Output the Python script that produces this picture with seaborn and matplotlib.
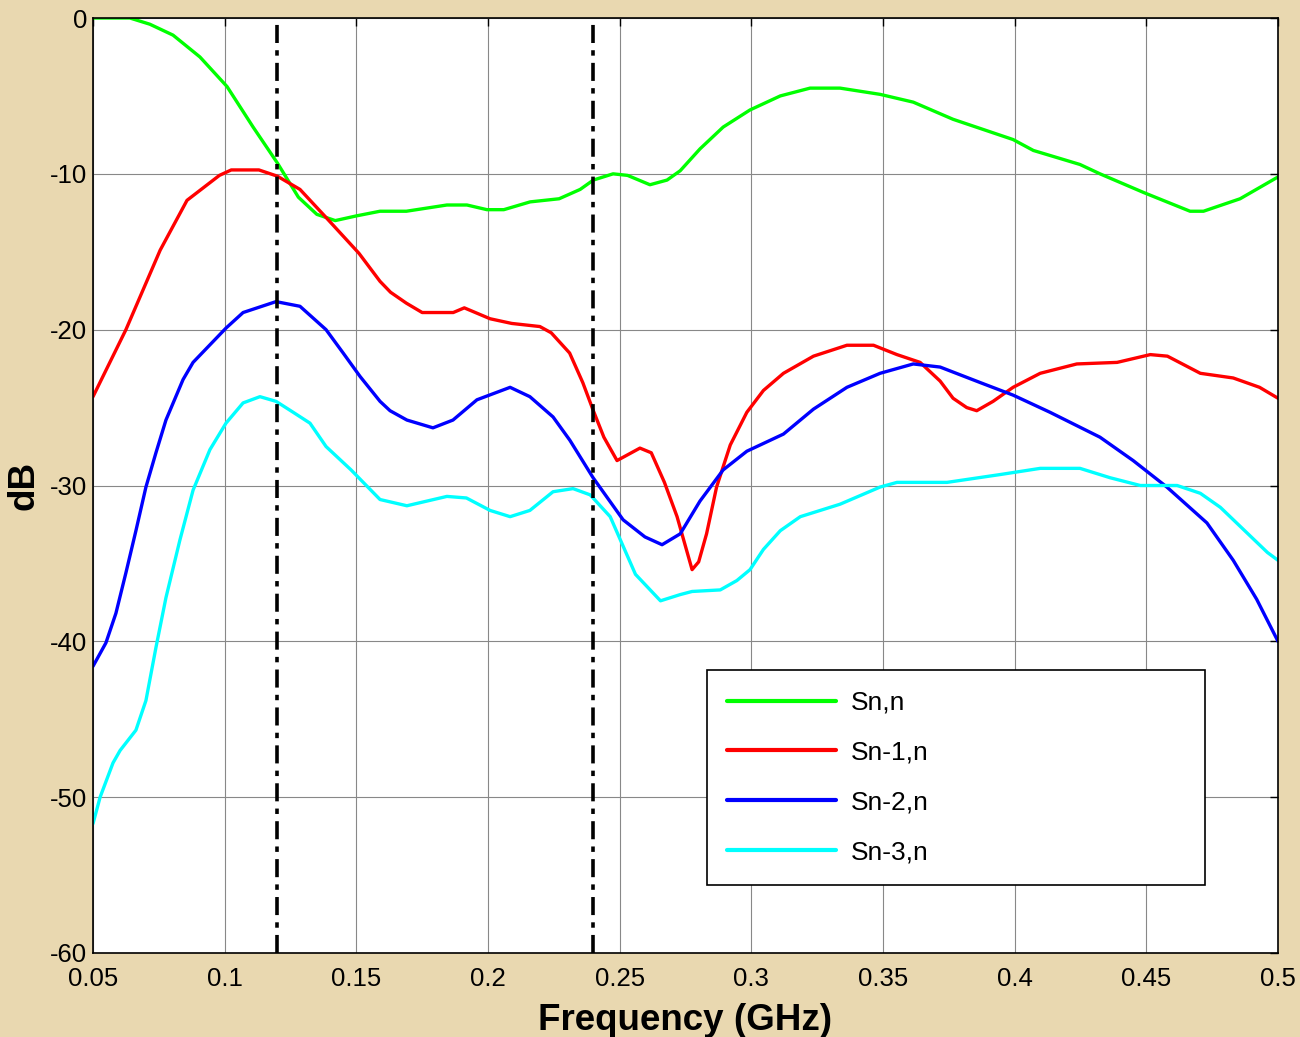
import numpy as np
import pandas as pd
import seaborn as sns
from matplotlib import pyplot as plt

sns.set_theme(style="white")
plt.rcParams['font.family'] = ['Liberation Sans', 'DejaVu Sans']
plt.rcParams['axes.unicode_minus'] = False

# Sn,n
green_f = [0.05, 0.064, 0.0716, 0.0804, 0.0906, 0.1009, 0.1108, 0.12, 0.128, 0.135, 0.142,
           0.150, 0.159, 0.169, 0.1844, 0.192, 0.1996, 0.206, 0.216, 0.227, 0.235, 0.24,
           0.2475, 0.253, 0.2615, 0.268, 0.273, 0.2805, 0.2893, 0.2995, 0.311, 0.3223,
           0.3337, 0.3489, 0.3615, 0.3766, 0.3994, 0.4071, 0.4248, 0.4324, 0.449, 0.4666,
           0.4717, 0.4856, 0.5]
green_db = [0, 0, -0.4, -1.1, -2.5, -4.4, -7.0, -9.3, -11.5, -12.6, -13.0,
            -12.7, -12.4, -12.4, -12.0, -12.0, -12.3, -12.3, -11.8, -11.6, -11.0, -10.4,
            -10.0, -10.1, -10.7, -10.4, -9.8, -8.4, -7.0, -5.9, -5.0, -4.5,
            -4.5, -4.9, -5.4, -6.5, -7.8, -8.5, -9.4, -10.0, -11.2, -12.4,
            -12.4, -11.6, -10.2]

# Sn-1,n
red_f = [0.05, 0.0625, 0.0755, 0.0857, 0.098, 0.1025, 0.113, 0.12, 0.1286, 0.1385, 0.151,
         0.159, 0.163, 0.169, 0.175, 0.1868, 0.191, 0.2008, 0.209, 0.2197, 0.224, 0.231,
         0.236, 0.24, 0.244, 0.249, 0.2577, 0.262, 0.267, 0.2718, 0.2775, 0.280, 0.283,
         0.2868, 0.292, 0.2983, 0.3046, 0.3122, 0.3236, 0.3363, 0.3464, 0.3553, 0.3641,
         0.3717, 0.3766, 0.3818, 0.3856, 0.3918, 0.3994, 0.4097, 0.4236, 0.4389, 0.4515,
         0.458, 0.4705, 0.483, 0.493, 0.5]
red_db = [-24.3, -20.0, -14.9, -11.7, -10.1, -9.75, -9.75, -10.15, -11.0, -12.8, -15.1,
          -16.9, -17.6, -18.3, -18.9, -18.9, -18.6, -19.3, -19.6, -19.8, -20.2, -21.5,
          -23.4, -25.2, -26.9, -28.4, -27.6, -27.9, -29.8, -32.0, -35.4, -34.9, -33.1,
          -30.1, -27.4, -25.3, -23.9, -22.8, -21.7, -21.0, -21.0, -21.6, -22.1,
          -23.3, -24.4, -25.0, -25.2, -24.6, -23.7, -22.8, -22.2, -22.1, -21.6,
          -21.7, -22.8, -23.1, -23.7, -24.4]

# Sn-2,n
blue_f = [0.05, 0.0549, 0.0587, 0.0625, 0.0663, 0.0701, 0.0739, 0.0777, 0.0842, 0.088,
          0.1005, 0.107, 0.1195, 0.1286, 0.1385, 0.145, 0.1514, 0.159, 0.1628, 0.1692,
          0.1791, 0.1867, 0.1958, 0.2084, 0.2159, 0.2247, 0.2311, 0.2399, 0.2513, 0.2596,
          0.2661, 0.273, 0.2805, 0.2893, 0.2983, 0.3122, 0.3236, 0.3363, 0.3489, 0.3615,
          0.3717, 0.387, 0.3994, 0.4134, 0.4324, 0.445, 0.4578, 0.473, 0.483, 0.4919, 0.5]
blue_db = [-41.6, -40.1, -38.2, -35.6, -32.9, -30.1, -27.9, -25.8, -23.2, -22.1,
           -19.9, -18.9, -18.2, -18.5, -20.0, -21.5, -23.0, -24.6, -25.2, -25.8,
           -26.3, -25.8, -24.5, -23.7, -24.3, -25.6, -27.1, -29.5, -32.2, -33.3,
           -33.8, -33.1, -31.0, -29.0, -27.8, -26.7, -25.1, -23.7, -22.8, -22.2,
           -22.4, -23.4, -24.2, -25.3, -26.9, -28.4, -30.1, -32.4, -34.8, -37.3, -40.0]

# Sn-3,n
cyan_f = [0.05, 0.0527, 0.0576, 0.0603, 0.0663, 0.0701, 0.0739, 0.0777, 0.083, 0.088,
          0.0944, 0.1005, 0.107, 0.1134, 0.1195, 0.126, 0.1324, 0.1385, 0.148, 0.159,
          0.1692, 0.1844, 0.1918, 0.2008, 0.2084, 0.2159, 0.2247, 0.2323, 0.2388, 0.2464,
          0.256, 0.2655, 0.273, 0.2775, 0.2882, 0.2945, 0.2995, 0.3046, 0.311, 0.3186,
          0.3337, 0.3489, 0.3553, 0.3743, 0.3944, 0.4097, 0.4248, 0.4362, 0.4477, 0.4617,
          0.4705, 0.4781, 0.496, 0.5]
cyan_db = [-51.7, -50.0, -47.8, -47.0, -45.7, -43.8, -40.4, -37.2, -33.5, -30.3,
           -27.7, -26.0, -24.7, -24.3, -24.6, -25.3, -26.0, -27.5, -29.0, -30.9,
           -31.3, -30.7, -30.8, -31.6, -32.0, -31.6, -30.4, -30.2, -30.6, -32.0,
           -35.7, -37.4, -37.0, -36.8, -36.7, -36.1, -35.4, -34.1, -32.9, -32.0,
           -31.2, -30.1, -29.8, -29.8, -29.3, -28.9, -28.9, -29.5, -30.0, -30.0,
           -30.5, -31.4, -34.3, -34.8]

markers_f = [0.12, 0.24]
x_ticks = [0.05, 0.1, 0.15, 0.2, 0.25, 0.3, 0.35, 0.4, 0.45, 0.5]
x_labels = ['0.05', '0.1', '0.15', '0.2', '0.25', '0.3', '0.35', '0.4', '0.45', '0.5']
y_ticks = [0, -10, -20, -30, -40, -50, -60]

series = [('Sn,n', green_f, green_db, '#00FF00'),
          ('Sn-1,n', red_f, red_db, '#FF0000'),
          ('Sn-2,n', blue_f, blue_db, '#0000FF'),
          ('Sn-3,n', cyan_f, cyan_db, '#00FFFF')]

fig = plt.figure(figsize=(13, 10.37), dpi=100)
fig.patch.set_facecolor('#E9D8B0')
ax = fig.add_axes([93/1300, 1-953/1037, 1185/1300, 935/1037])
ax.set_facecolor('white')

for name, f, db, c in series:
    df = pd.DataFrame({'f': f, 'dB': db})
    sns.lineplot(data=df, x='f', y='dB', color=c, lw=2.4, label=name, ax=ax)

for m in markers_f:
    ax.axvline(m, color='black', lw=2.6, ls='-.', dashes=(5, 2, 1.5, 2))

ax.set_xlim(0.05, 0.5)
ax.set_ylim(-60, 0)
ax.set_xticks(x_ticks)
ax.set_xticklabels(x_labels)
ax.set_yticks(y_ticks)
ax.grid(True, color='#888888', lw=0.8)
ax.tick_params(direction='in', length=6, width=1, top=True, right=True,
               labelsize=18.5, colors='black')
ax.tick_params(axis='x', pad=10)
ax.tick_params(axis='y', pad=4)
for s in ax.spines.values():
    s.set_color('black')
    s.set_linewidth(1.2)

ax.set_xlabel('Frequency (GHz)', fontsize=26.5, fontweight='bold', color='black', labelpad=9)
ax.set_ylabel('dB', fontsize=26.5, fontweight='bold', color='black', labelpad=6)

leg = ax.legend(loc='lower left', bbox_to_anchor=(0.518, 0.0727, 0.42, 0.23), mode='expand',
                fontsize=19, handlelength=4.1, labelspacing=0.98, borderpad=0.78,
                handletextpad=0.57, frameon=True, fancybox=False, borderaxespad=0)
leg.get_frame().set_edgecolor('black')
leg.get_frame().set_linewidth(1.2)
leg.get_frame().set_alpha(1)
for line in leg.get_lines():
    line.set_linewidth(3)
for t in leg.get_texts():
    t.set_color('black')

fig.savefig('out.png', dpi=100, facecolor=fig.get_facecolor())
